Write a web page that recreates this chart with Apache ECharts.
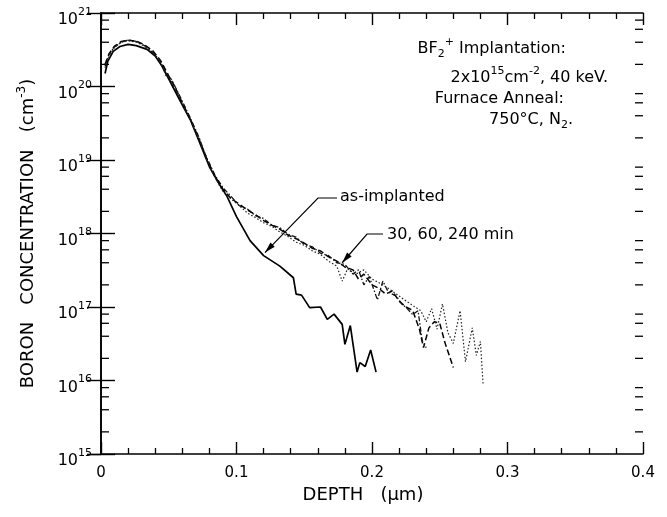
<!DOCTYPE html>
<html><head><meta charset="utf-8">
<script src="https://cdn.jsdelivr.net/npm/echarts@6/dist/echarts.min.js"></script>
<style>html,body{margin:0;padding:0;background:#fff}#c{width:667px;height:517px}</style>
</head><body><div id="c"></div>
<script>
// ---- data (depth in µm, boron concentration in cm^-3) ----
const asImplantedDepth = [0.003,0.005,0.009,0.014,0.020,0.026,0.034,0.040,0.045,0.051,0.058,0.066,0.073,0.080,0.087,0.093,0.100,0.110,0.120,0.132,0.142,0.144,0.148,0.154,0.162,0.167,0.172,0.178,0.180,0.184,0.189,0.191,0.195,0.199,0.203];
const asImplantedConc  = [1.5e20,2.2e20,3.0e20,3.5e20,3.75e20,3.6e20,3.2e20,2.6e20,1.9e20,1.17e20,6.6e19,3.5e19,1.7e19,8.1e18,4.8e18,3.2e18,1.7e18,8.0e17,5.0e17,3.6e17,2.5e17,1.5e17,1.45e17,9.8e16,1.0e17,6.8e16,8.0e16,5.8e16,3.1e16,5.6e16,1.3e16,1.75e16,1.55e16,2.6e16,1.3e16];

const anneal30Depth = [0.003,0.006,0.010,0.015,0.020,0.026,0.032,0.038,0.044,0.050,0.055,0.060,0.066,0.072,0.078,0.084,0.090,0.096,0.102,0.108,0.114,0.120,0.126,0.132,0.138,0.144,0.150,0.156,0.162,0.168,0.174,0.180,0.186,0.190,0.194,0.200,0.205,0.210,0.215,0.220,0.225,0.230,0.235,0.238,0.242,0.246,0.250,0.254,0.257,0.260];
const anneal30Conc  = [2.0e20,2.8e20,3.55e20,4.1e20,4.25e20,4.15e20,3.7e20,3.1e20,2.25e20,1.4e20,9.5e19,6.0e19,3.6e19,2.0e19,1.05e19,6.0e18,4.0e18,3.0e18,2.5e18,2.1e18,1.8e18,1.5e18,1.3e18,1.15e18,9.5e17,8.5e17,7.4e17,6.3e17,5.8e17,4.8e17,4.2e17,3.5e17,3.2e17,2.4e17,2.8e17,2.0e17,1.8e17,1.5e17,1.65e17,1.2e17,1.0e17,9.0e16,5.0e16,2.8e16,5.2e16,6.3e16,6.0e16,3.2e16,2.2e16,1.5e16];

const anneal60Depth = [0.003,0.006,0.010,0.015,0.020,0.026,0.032,0.038,0.044,0.048,0.052,0.056,0.060,0.066,0.072,0.078,0.084,0.090,0.096,0.102,0.108,0.114,0.120,0.126,0.132,0.138,0.144,0.150,0.156,0.162,0.168,0.174,0.180,0.186,0.190,0.194,0.198,0.204,0.208,0.212,0.218,0.222,0.226,0.230,0.234,0.237,0.240];
const anneal60Conc  = [1.9e20,2.75e20,3.45e20,4.0e20,4.3e20,4.1e20,3.6e20,2.95e20,2.2e20,1.4e20,1.25e20,8.9e19,6.3e19,3.7e19,2.1e19,1.07e19,6.3e18,4.2e18,3.2e18,2.4e18,2.15e18,1.75e18,1.6e18,1.3e18,1.2e18,9.8e17,8.9e17,7.1e17,6.6e17,5.4e17,5.0e17,4.0e17,3.8e17,2.8e17,3.2e17,2.0e17,2.6e17,1.25e17,2.25e17,1.6e17,1.4e17,1.1e17,9.5e16,7.9e16,8.9e16,3.5e16,2.8e16];

const anneal240Depth = [0.003,0.006,0.010,0.015,0.020,0.026,0.032,0.038,0.044,0.050,0.055,0.060,0.066,0.072,0.078,0.084,0.090,0.096,0.102,0.108,0.114,0.120,0.126,0.132,0.138,0.144,0.150,0.156,0.162,0.168,0.174,0.178,0.182,0.188,0.194,0.200,0.206,0.212,0.218,0.224,0.230,0.236,0.240,0.244,0.248,0.252,0.256,0.260,0.265,0.269,0.274,0.277,0.280,0.282];
const anneal240Conc  = [1.8e20,2.6e20,3.4e20,4.0e20,4.2e20,4.0e20,3.55e20,2.9e20,2.1e20,1.3e20,9.1e19,5.8e19,3.5e19,1.9e19,1.0e19,5.8e18,3.7e18,2.95e18,2.4e18,1.9e18,1.65e18,1.4e18,1.25e18,1.05e18,9.1e17,7.6e17,6.9e17,5.8e17,5.2e17,4.2e17,3.6e17,2.25e17,3.3e17,2.8e17,3.2e17,2.4e17,2.1e17,1.8e17,1.5e17,1.25e17,1.05e17,8.9e16,6.3e16,9.5e16,5.0e16,1.1e17,4.5e16,3.2e16,8.9e16,1.8e16,5.2e16,2.2e16,3.4e16,8.7e15];

const xTickLabels = ['0','0.1','0.2','0.3','0.4'];
const yMinorMultipliers = [2,4,6,8];
const yDecadeExponents = [15,16,17,18,19,20];

// annotation anchor points (data units)
const asImplantedArrowTip = [0.121, 5.5e17];
const annealArrowTip = [0.178, 4.0e17];

function pairs(xs, ys){ return xs.map((x,i)=>[x, ys[i]]); }
const minorTickVals = [];
yDecadeExponents.forEach(e => yMinorMultipliers.forEach(m => minorTickVals.push(m*Math.pow(10,e))));

const FONT = '"DejaVu Sans", sans-serif';
const chart = echarts.init(document.getElementById('c'), null, {renderer:'canvas'});

const axisLineStyle = {color:'#000', width:1.6};
const tickStyle = {color:'#000', width:1.4};

const option = {
  animation:false,
  backgroundColor:'#fff',
  grid:{left:101, right:24, top:13, bottom:63},
  xAxis:[{
    type:'value', min:0, max:0.4, interval:0.1, position:'bottom',
    axisLine:{lineStyle:axisLineStyle},
    axisTick:{inside:true, length:12, lineStyle:tickStyle},
    minorTick:{show:true, splitNumber:5, length:6, lineStyle:{color:'#000', width:1.3}},
    splitLine:{show:false},
    axisLabel:{margin:12, color:'#000', fontFamily:FONT, fontSize:15,
      formatter:(v)=>xTickLabels[Math.round(v*10)]},
    name:'DEPTH   (\u03bcm)', nameLocation:'middle', nameGap:28,
    nameTextStyle:{color:'#000', fontFamily:FONT, fontSize:18, padding:[0,18,0,0]}
  },{
    type:'value', min:0, max:0.4, interval:0.1, position:'top',
    axisLine:{lineStyle:axisLineStyle},
    axisTick:{inside:true, length:12, lineStyle:tickStyle},
    minorTick:{show:true, splitNumber:5, length:6, lineStyle:{color:'#000', width:1.3}},
    splitLine:{show:false}, axisLabel:{show:false}
  }],
  yAxis:[{
    type:'log', logBase:10, min:1e15, max:1e21, position:'left',
    axisLine:{lineStyle:axisLineStyle},
    axisTick:{inside:true, length:14, lineStyle:tickStyle},
    splitLine:{show:false}, minorTick:{show:false},
    axisLabel:{margin:9, color:'#000', padding:[14,0,0,0],
      formatter:(v)=>'{b|10}{s|'+Math.round(Math.log10(v))+'}',
      rich:{b:{fontFamily:FONT, fontSize:16, color:'#000'},
            s:{fontFamily:FONT, fontSize:11, color:'#000', padding:[0,0,16,0]}}},
    name:'{t|BORON   CONCENTRATION   (cm}{s|-3}{t|)}', nameLocation:'middle', nameGap:60,
    nameTextStyle:{rich:{t:{fontFamily:FONT, fontSize:18, color:'#000'},
                         s:{fontFamily:FONT, fontSize:12, color:'#000', padding:[0,0,13,0]}}}
  },{
    type:'log', logBase:10, min:1e15, max:1e21, position:'right',
    axisLine:{lineStyle:axisLineStyle},
    axisTick:{inside:true, length:14, lineStyle:tickStyle},
    splitLine:{show:false}, minorTick:{show:false}, axisLabel:{show:false}
  }],
  series:[
    {type:'custom', name:'yMinorTicks', silent:true, clip:false, xAxisIndex:0, yAxisIndex:0,
     data:minorTickVals.map(v=>[0,v]),
     renderItem:(params, api)=>{
       const y = api.coord([0, api.value(1)])[1];
       const cs = params.coordSys;
       return {type:'group', children:[
         {type:'line', shape:{x1:cs.x, y1:y, x2:cs.x+8, y2:y}, style:{stroke:'#000', lineWidth:1.3}},
         {type:'line', shape:{x1:cs.x+cs.width-8, y1:y, x2:cs.x+cs.width, y2:y}, style:{stroke:'#000', lineWidth:1.3}}
       ]};
     }},
    {type:'line', name:'as-implanted', data:pairs(asImplantedDepth, asImplantedConc), showSymbol:false, symbol:'none',
     lineStyle:{color:'#000', width:1.7}},
    {type:'line', name:'30 min', data:pairs(anneal30Depth, anneal30Conc), symbol:'none',
     lineStyle:{color:'#000', width:1.5, type:[6,3]}},
    {type:'line', name:'60 min', data:pairs(anneal60Depth, anneal60Conc), symbol:'none',
     lineStyle:{color:'#111', width:1.3, type:[5,2,1.5,2]}},
    {type:'line', name:'240 min', data:pairs(anneal240Depth, anneal240Conc), symbol:'none',
     lineStyle:{color:'#222', width:1.2, type:[1.5,2]}}
  ]
};
chart.setOption(option);

// ---- annotations ----
function arrow(elbowPts, tipData){
  const tip = chart.convertToPixel({xAxisIndex:0, yAxisIndex:0}, tipData);
  const pts = elbowPts.concat([tip]);
  const prev = elbowPts[elbowPts.length-1];
  const dx = tip[0]-prev[0], dy = tip[1]-prev[1];
  const L = Math.hypot(dx,dy), ux = dx/L, uy = dy/L, nx = -uy, ny = ux;
  const hl = 11, hw = 3;
  const bx = tip[0]-ux*hl, by = tip[1]-uy*hl;
  return [
    {type:'polyline', shape:{points:pts}, style:{stroke:'#000', lineWidth:1.2, fill:null}, silent:true},
    {type:'polygon', shape:{points:[tip,[bx+nx*hw,by+ny*hw],[bx-nx*hw,by-ny*hw]]}, style:{fill:'#000'}, silent:true}
  ];
}
const T = (x,y,text,align,rich,size)=>({type:'text', x:x, y:y, silent:true,
  style:{text:text, fill:'#000', font:(size||16)+'px '+FONT, align:align||'left', verticalAlign:'middle', rich:rich}});
const richStd = {n:{fontFamily:FONT, fontSize:16, fill:'#000'},
                 sup:{fontFamily:FONT, fontSize:11, fill:'#000', padding:[0,0,14,0]},
                 sub:{fontFamily:FONT, fontSize:11, fill:'#000', padding:[10,0,0,0]}};
chart.setOption({graphic:[
  ...arrow([[337,198],[318,198]], asImplantedArrowTip),
  ...arrow([[383,234],[367,234]], annealArrowTip),
  T(340,197,'as-implanted','left',null,16),
  T(387,235,'30, 60, 240 min','left',null,16),
  T(566,49,'{n|BF}{sub|2}{sup|+}{n| Implantation:}','right',richStd),
  T(608,78,'{n|2x10}{sup|15}{n|cm}{sup|-2}{n|, 40 keV.}','right',richStd),
  T(564,99,'Furnace Anneal:','right'),
  T(573,120,'{n|750\u00b0C, N}{sub|2}{n|.}','right',richStd)
]});
</script></body></html>
